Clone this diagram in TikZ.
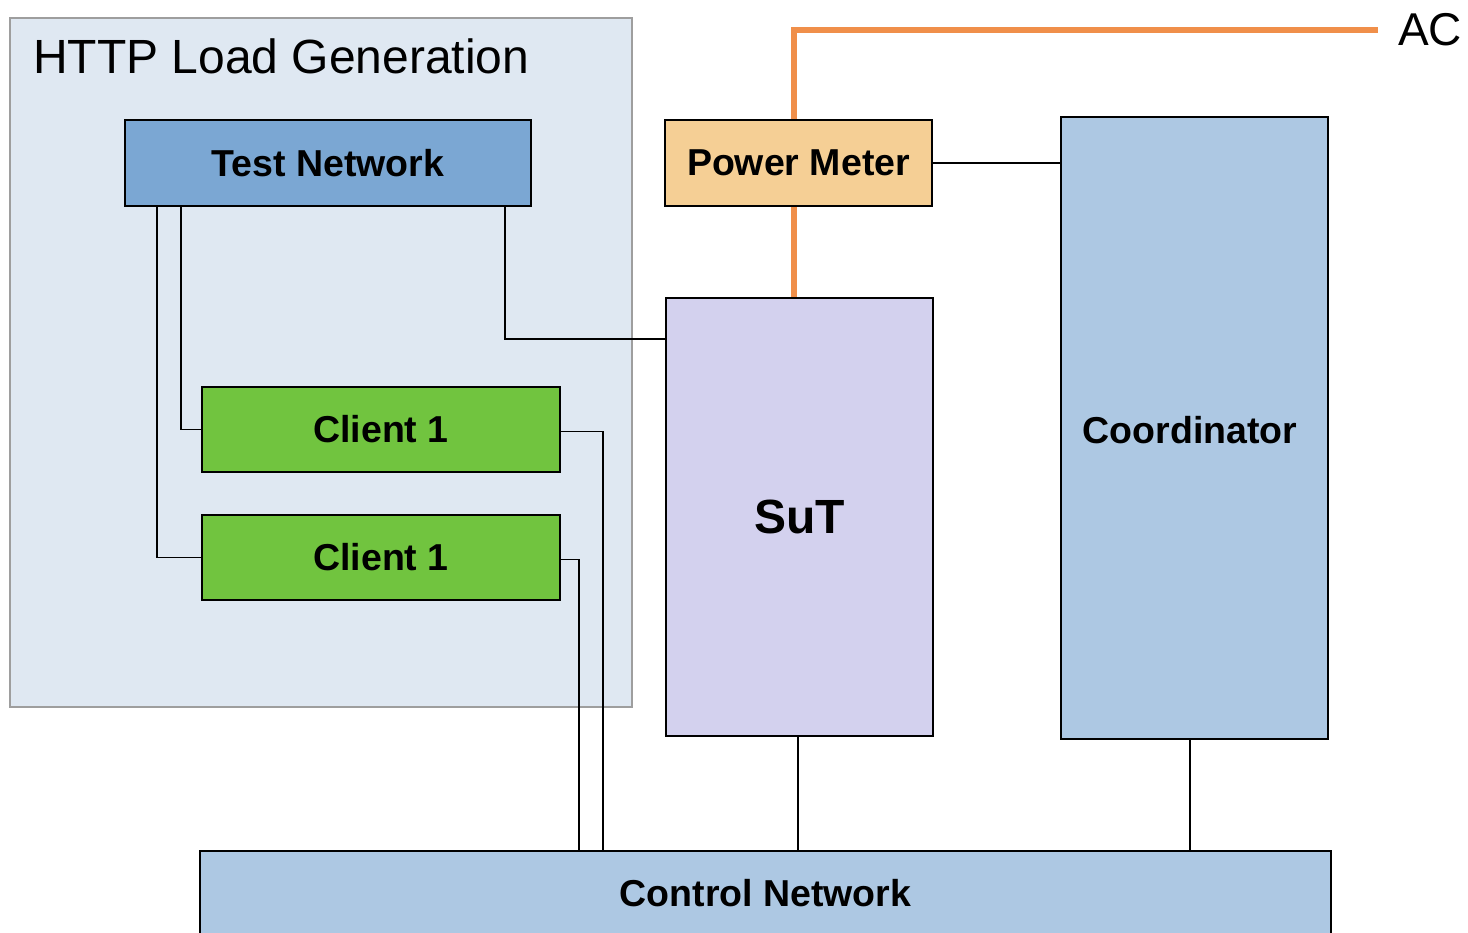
\documentclass[tikz,border=0pt]{standalone}
\usepackage{fontspec}
\setmainfont{Liberation Sans}
\definecolor{grpfill}{HTML}{DFE8F2}
\definecolor{grpline}{HTML}{9E9E9E}
\definecolor{tnfill}{HTML}{7BA7D3}
\definecolor{pmfill}{HTML}{F5CF95}
\definecolor{bluefill}{HTML}{ADC8E3}
\definecolor{sutfill}{HTML}{D3D1EE}
\definecolor{clfill}{HTML}{71C43F}
\definecolor{acorange}{HTML}{F08F4A}
\tikzset{
  blk/.style={draw=black, line width=1.8pt, inner sep=0pt, font=\fontsize{37.5}{44}\selectfont\bfseries},
  wire/.style={draw=black, line width=1.8pt},
  power/.style={draw=acorange, line width=6pt}
}
\begin{document}
\begin{tikzpicture}[x=1pt,y=-1pt]
\clip (0,0) rectangle (1468,933);
\fill[white] (0,0) rectangle (1468,933);
% group
\node[draw=grpline, fill=grpfill, line width=1.5pt, inner sep=0pt, minimum width=622pt, minimum height=689pt] (grp) at (321,362.5) {};
\node[anchor=base west, inner sep=0pt, font=\fontsize{48}{56}\selectfont] (title) at (33,74) {HTTP Load Generation};
% blocks
\node[blk, fill=tnfill, minimum width=406pt, minimum height=86pt] (tn) at (328,163) {Test Network};
\node[blk, fill=pmfill, minimum width=267pt, minimum height=86pt] (pm) at (798.5,163) {Power Meter};
\node[blk, fill=bluefill, minimum width=267pt, minimum height=622pt] (coord) at (1194.5,428) {};
\node[anchor=center, inner sep=0pt, font=\fontsize{37.5}{44}\selectfont\bfseries] (coordlabel) at (1190,430) {Coordinator};
\node[blk, fill=sutfill, minimum width=267pt, minimum height=438pt, font=\fontsize{48}{56}\selectfont\bfseries] (sut) at (799.5,517) {SuT};
\node[blk, fill=clfill, minimum width=358pt, minimum height=85pt] (c1) at (381,429.5) {Client 1};
\node[blk, fill=clfill, minimum width=358pt, minimum height=85pt] (c2) at (381,557.5) {Client 1};
\node[blk, fill=bluefill, minimum width=1131pt, minimum height=164pt] (cn) at (765.5,933) {};
\node[anchor=base, inner sep=0pt, font=\fontsize{37.5}{44}\selectfont\bfseries] (cnlabel) at (765.5,906) {Control Network};
% wires
\draw[wire] ([xshift=33pt]tn.south west) |- (c2.west);
\draw[wire] ([xshift=57pt]tn.south west) |- (c1.west);
\draw[wire] ([xshift=381pt]tn.south west) |- ([yshift=-42pt]sut.north west);
\draw[wire] ([yshift=-2pt]c1.east) -| ([xshift=404pt]cn.north west);
\draw[wire] ([yshift=-2pt]c2.east) -| ([xshift=380pt]cn.north west);
\draw[wire] ([xshift=-1.5pt]sut.south) -- ([xshift=-1.5pt]sut.south |- cn.north);
\draw[wire] ([xshift=-4.5pt]coord.south) -- ([xshift=-4.5pt]coord.south |- cn.north);
\draw[wire] (pm.east) -- (pm.east -| coord.west);
% power
\coordinate (acend) at (1378,30);
\draw[power] ([xshift=-4.5pt]pm.north) |- (acend);
\draw[power] ([xshift=-4.5pt]pm.south) -- ([xshift=-4.5pt]pm.south |- sut.north);
\node[anchor=base west, inner sep=0pt, font=\fontsize{46}{54}\selectfont] (ac) at (1398,46) {AC};
\end{tikzpicture}
\end{document}
